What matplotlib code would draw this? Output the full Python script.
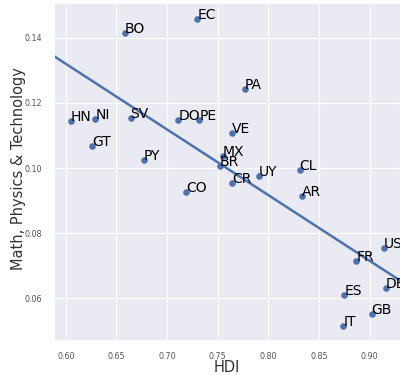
import numpy as np
import matplotlib
matplotlib.use('Agg')
import matplotlib.pyplot as plt
import seaborn as sns

# country codes, HDI, share of math/physics/technology
countries = ['BO', 'EC', 'HN', 'NI', 'SV', 'DO', 'PE', 'GT', 'PY', 'CO',
             'PA', 'VE', 'MX', 'BR', 'CR', 'UY', 'CL', 'AR', 'US', 'FR',
             'DE', 'ES', 'GB', 'IT']
hdi = [0.658, 0.730, 0.605, 0.629, 0.664, 0.711, 0.732, 0.626, 0.677, 0.719,
       0.777, 0.764, 0.755, 0.752, 0.764, 0.791, 0.831, 0.833, 0.914, 0.887,
       0.916, 0.875, 0.902, 0.874]
mpt = [0.1414, 0.1458, 0.1144, 0.1152, 0.1155, 0.1149, 0.1149, 0.1067, 0.1026, 0.0926,
       0.1244, 0.1108, 0.1036, 0.1008, 0.0955, 0.0975, 0.0993, 0.0916, 0.0754, 0.0715,
       0.0633, 0.0610, 0.0551, 0.0515]

sns.set_style('darkgrid')
plt.rcParams['font.family'] = ['DejaVu Sans']

fig = plt.figure(figsize=(4, 3.75), dpi=100)
ax = fig.add_axes([0.134, 0.093, 0.866, 0.899])

x = np.array(hdi)
y = np.array(mpt)
ax.scatter(x, y, s=14, color='#4C72B0', zorder=3)

# linear fit across the whole visible range
slope, icpt = np.polyfit(x, y, 1)
xl = np.array([0.58, 0.94])
ax.plot(xl, slope * xl + icpt, color='#4C72B0', lw=1.8, zorder=2)

for c, xi, yi in zip(countries, hdi, mpt):
    ax.text(xi, yi, c, fontsize=10, color='black', zorder=4)

ax.set_xlim(0.588, 0.930)
ax.set_ylim(0.0472, 0.1507)
ax.set_xticks([0.60, 0.65, 0.70, 0.75, 0.80, 0.85, 0.90])
ax.set_xticklabels(['0.60', '0.65', '0.70', '0.75', '0.80', '0.85', '0.90'])
ax.set_yticks([0.06, 0.08, 0.10, 0.12, 0.14])
ax.set_yticklabels(['0.06', '0.08', '0.10', '0.12', '0.14'])
ax.tick_params(labelsize=5.8, colors='#555555', pad=5)
ax.set_xlabel('HDI', fontsize=10.5, color='#333333')
ax.xaxis.set_label_coords(0.5, -0.058)
ax.set_ylabel('Math, Physics & Technology', fontsize=10.5, color='#333333')
ax.yaxis.set_label_coords(-0.08, 0.51)

fig.savefig('out.png', dpi=100)
